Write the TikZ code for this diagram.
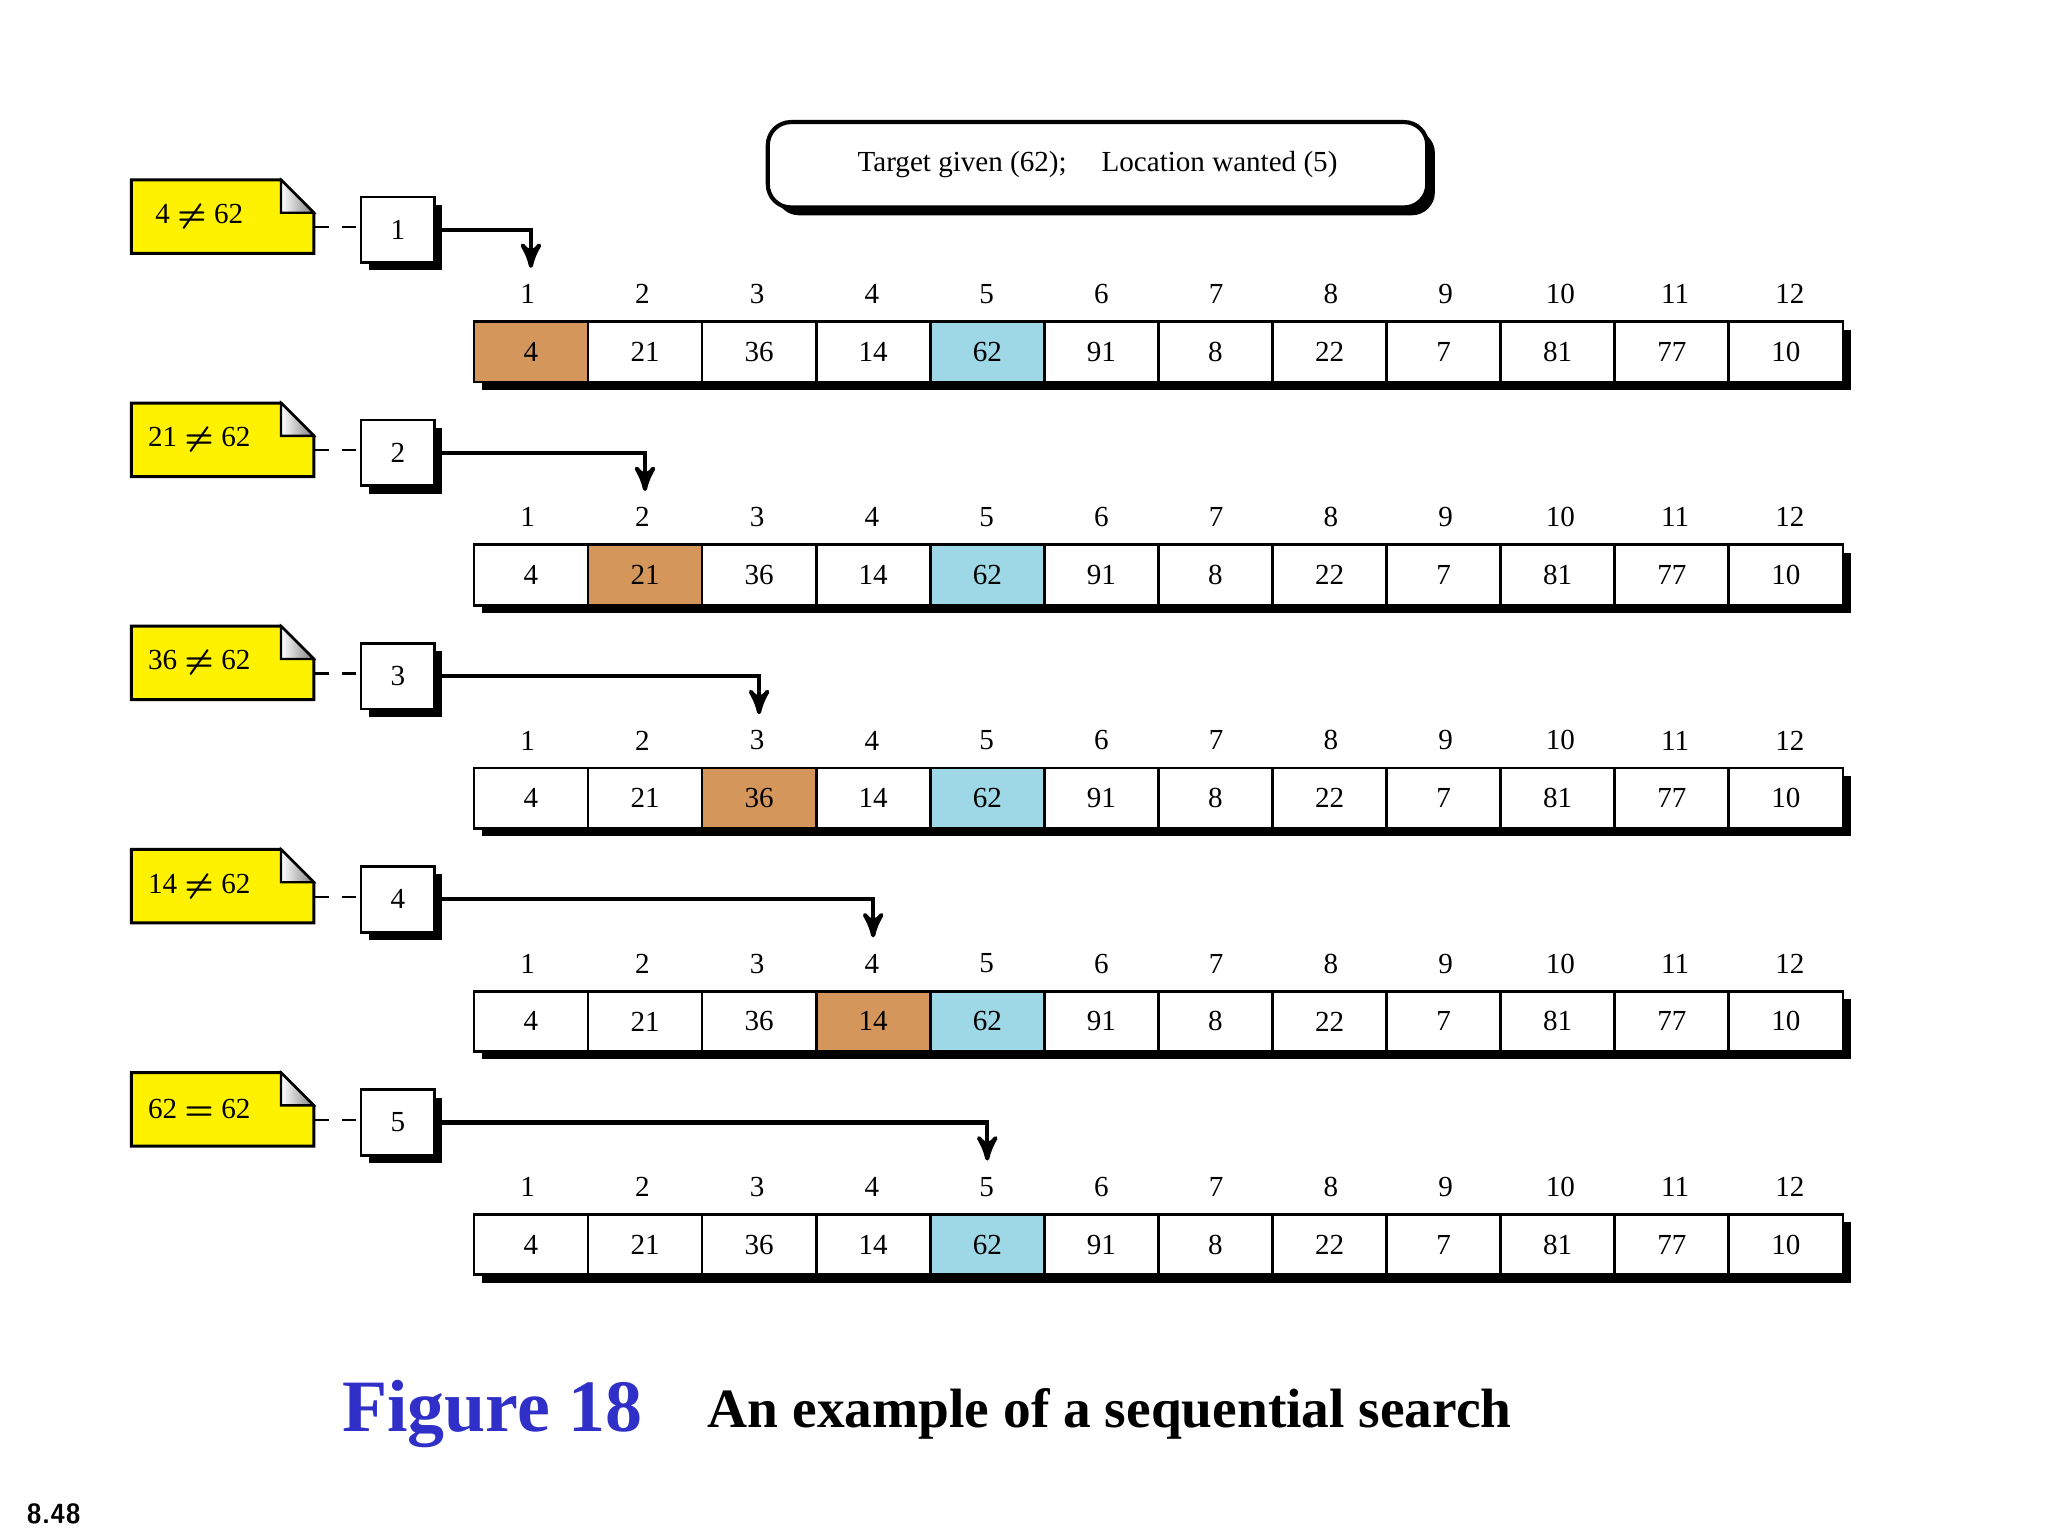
\documentclass[tikz,border=0pt]{standalone}
\usepackage{fontspec}
\setmainfont{Liberation Serif}
\usetikzlibrary{arrows,positioning,calc}
\definecolor{hitorange}{HTML}{D4965A}
\definecolor{targetblue}{HTML}{9ED8E6}
\definecolor{figblue}{HTML}{3030C8}
\tikzset{>=stealth',
	cell/.style={draw=black,line width=0.6pt,fill=white,minimum width=0.869cm,minimum height=0.46cm,inner sep=0pt,font=\fontsize{6.3}{7}\selectfont},
	idx/.style={inner sep=0pt,font=\fontsize{6.3}{7}\selectfont},
	note/.style={minimum width=1.39cm,minimum height=0.56cm,inner sep=0pt,font=\fontsize{6.3}{7}\selectfont},
	stepbox/.style={draw=black,line width=0.6pt,fill=white,minimum width=0.56cm,minimum height=0.5cm,inner sep=0pt,font=\fontsize{6.3}{7}\selectfont},
	backing/.style={fill=black,draw=none}}
\begin{document}
\begin{tikzpicture}[x=0.01cm,y=-0.01cm]
	\useasboundingbox (0,0) rectangle (1560,1170);
	% target box
	\fill[backing,rounded corners=5] (591,99) rectangle (1093,164);
	\node (given) at (836,125.5) [draw=black,line width=0.9pt,fill=white,rounded corners=5,minimum width=5.02cm,minimum height=0.65cm,font=\fontsize{6.3}{7}\selectfont] {Target given (62);\hspace{1.2em}Location wanted (5)};
	% five search steps
	\foreach \r/\t/\s in {1/4/{\neq},2/21/{\neq},3/36/{\neq},4/14/{\neq},5/62/{=}} {
		\pgfmathsetmacro\ny{137+170*(\r-1)}
		\pgfmathsetmacro\ry{\ny+108}
		% note
		\draw[line width=0.65pt,fill=yellow] (100,\ny) -- (214,\ny) -- (239,\ny+25) -- (239,\ny+56) -- (100,\ny+56) -- cycle;
		\shade[left color=white,right color=gray,draw=black,line width=0.5pt] (214,\ny) -- (239,\ny+25) -- (214,\ny+25) -- cycle;
		\node (n\r) at (169.5,\ny+28) [note] {\hspace{-1.6em}\t\ {\boldmath$\s$}\ 62};
		% step box
		\fill[backing] (281,\ny+19) rectangle (337,\ny+69);
		\node (b\r) at (303,\ny+38) [stepbox] {\r};
		\draw[dashed,line width=0.5pt] ($(n\r.east)+(0,8)$) -- ($(b\r.west)+(0,-2)$);
		% array row
		\fill[backing] (367,\ry+6) rectangle (1410,\ry+52);
		\foreach \v [count=\k] in {4,21,36,14,62,91,8,22,7,81,77,10} {
			\pgfmathsetmacro\cx{361+86.9*(\k-0.5)}
			\ifnum\k=5
				\node (c\r-\k) at (\cx,\ry+23) [cell,fill=targetblue] {\v};
			\else\ifnum\k=\r
				\node (c\r-\k) at (\cx,\ry+23) [cell,fill=hitorange] {\v};
			\else
				\node (c\r-\k) at (\cx,\ry+23) [cell] {\v};
			\fi\fi
			\node (i\r-\k) at (\cx+0.5*\k-3,\ry-21) [idx] {\k};
		}
		\coordinate (t\r) at (361+86.9*\r-43.5,\ny+67);
		\draw[->,line width=0.9pt] (b\r.east) -| (t\r);
	}
	% caption
	\node (fig) at (375,1077) [font=\fontsize{16}{18}\selectfont\bfseries,text=figblue] {Figure 18};
	\node (cap) [right=0.25cm of fig.east,anchor=west,font=\fontsize{12}{14}\selectfont\bfseries] {An example of a sequential search};
	\node (page) at (41,1153) [font=\fontsize{6}{7}\selectfont\sffamily\bfseries] {8.48};
\end{tikzpicture}
\end{document}
